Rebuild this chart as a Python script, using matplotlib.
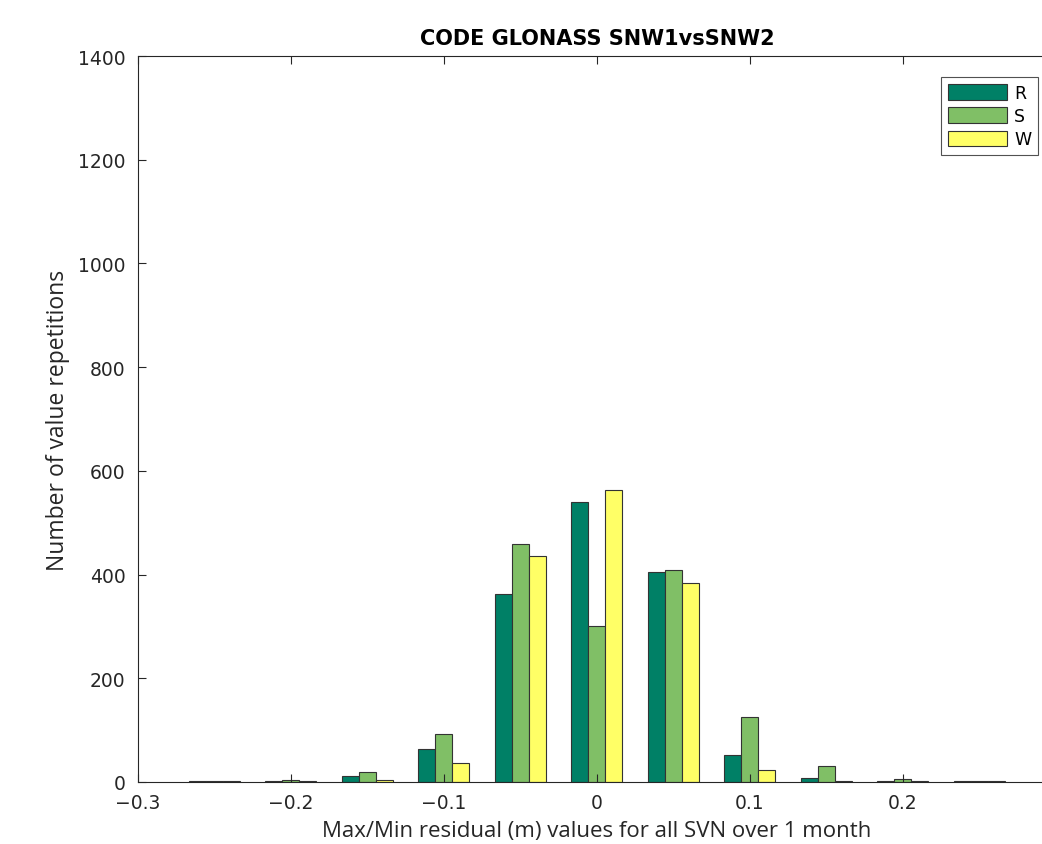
import numpy as np
import matplotlib
matplotlib.use('Agg')
import matplotlib.pyplot as plt

# bin centres and counts per series
centers = [-0.25, -0.2, -0.15, -0.1, -0.05, 0.0, 0.05, 0.1, 0.15, 0.2, 0.25]
r_counts = [1, 2, 11, 64, 362, 540, 404, 52, 8, 1, 1]
s_counts = [1, 3, 19, 92, 459, 300, 409, 125, 31, 6, 1]
w_counts = [1, 1, 4, 36, 435, 563, 383, 23, 2, 1, 1]
series_names = ['R', 'S', 'W']
colors = ['#008066', '#80BF66', '#FFFF66']

fig = plt.figure(figsize=(10.42, 8.45), dpi=100)
# axes runs to x=0.3, which falls just past the right edge of the picture
ax = fig.add_axes([0.1324, 0.0734, 0.881, 0.8591])

x = np.array(centers)
bw = 0.05 / 4.5
for i, (vals, name, c) in enumerate(zip([r_counts, s_counts, w_counts], series_names, colors)):
    ax.bar(x + (i - 1) * bw, vals, width=bw, color=c, edgecolor='#333333',
           linewidth=0.8, label=name)

ax.set_xlim(-0.3, 0.3)
ax.set_ylim(0, 1400)
ax.set_xticks([-0.3, -0.2, -0.1, 0, 0.1, 0.2])
ax.set_xticklabels(['\u22120.3', '\u22120.2', '\u22120.1', '0', '0.1', '0.2'])
ax.set_yticks(range(0, 1401, 200))
ax.tick_params(direction='in', top=True, right=True, labelsize=13.5,
               colors='#262626', length=6)
ax.tick_params(axis='x', pad=8)
ax.tick_params(axis='y', pad=9)
for sp in ax.spines.values():
    sp.set_color('#262626')
    sp.set_linewidth(0.8)

ax.set_title('CODE GLONASS SNW1vsSNW2', fontsize=15, fontweight='bold', pad=9)
ax.set_xlabel('Max/Min residual (m) values for all SVN over 1 month', fontsize=16,
              family='Open Sans', color='#262626', labelpad=6)
ax.set_ylabel('Number of value repetitions', fontsize=16.5, family='Open Sans',
              color='#262626', labelpad=6)

leg = ax.legend(loc='upper right', bbox_to_anchor=(1038 / 1042, 1 - 78 / 845),
                bbox_transform=fig.transFigure, fancybox=False, edgecolor='#262626',
                fontsize=12.5, handlelength=3.4, handleheight=1.0, borderpad=0.4,
                labelspacing=0.3, handletextpad=0.4, borderaxespad=0)
leg.get_frame().set_linewidth(0.8)

fig.savefig('out.png', dpi=100)
